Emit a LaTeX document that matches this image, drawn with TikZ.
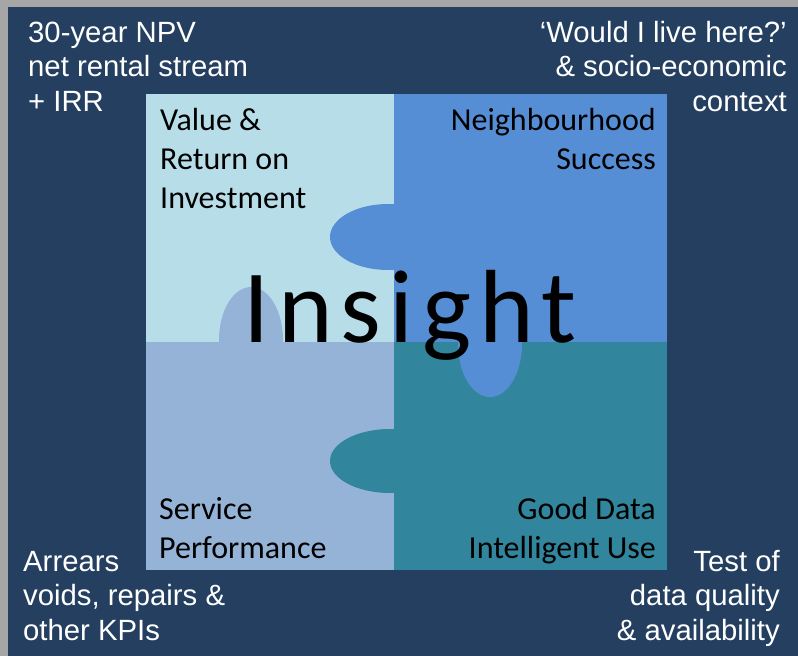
\documentclass[tikz,border=0pt]{standalone}
\usepackage{fontspec}
\setmainfont{Carlito}
\newfontfamily\arialfont{Liberation Sans}
\newfontfamily\insightfont[LetterSpace=8]{Carlito}

\definecolor{cornice}{HTML}{A6A6A6}
\definecolor{sfondo}{HTML}{243F60}
\definecolor{pezzoA}{HTML}{B7DEE8}
\definecolor{pezzoB}{HTML}{558ED5}
\definecolor{pezzoC}{HTML}{95B3D7}
\definecolor{pezzoD}{HTML}{31859C}

\begin{document}
\begin{tikzpicture}[x=1pt,y=-1pt,
  esterno/.style={text=white,inner sep=0pt,font=\arialfont\fontsize{29.3}{34.5}\selectfont},
  tessera/.style={text=black,inner sep=0pt,font=\fontsize{32}{39}\selectfont}]

\useasboundingbox (0,0) rectangle (798,656);

% Parametri del puzzle
\def\xa{146} \def\xm{394} \def\xb{667}
\def\ya{94}  \def\ym{342} \def\yb{570}

% Cornice grigia e sfondo
\fill[cornice] (0,0) rectangle (798,656);
\fill[sfondo] (8,7) rectangle (798,656);

% Le quattro tessere
\fill[pezzoA] (\xa,\ya) rectangle (\xm,\ym);
\fill[pezzoB] (\xm,\ya) rectangle (\xb,\ym);
\fill[pezzoC] (\xa,\ym) rectangle (\xm,\yb);
\fill[pezzoD] (\xm,\ym) rectangle (\xb,\yb);

% Incastri (linguette ellittiche)
\fill[pezzoB] (388,237) ellipse (58pt and 33pt);
\fill[pezzoC] (251,340) ellipse (32pt and 53pt);
\fill[pezzoB] (490,344) ellipse (32pt and 53pt);
\fill[pezzoD] (390,461) ellipse (60pt and 32pt);

% Scritta centrale
\node[anchor=base,inner sep=0pt,font=\insightfont\fontsize{104}{104}\selectfont] (insight) at (410,342) {Insight};

% Etichette delle tessere (base = ultima riga)
\node[tessera,anchor=base west,align=left] (valore) at (160,208) {Value \&\\Return on\\Investment};
\node[tessera,anchor=base east,align=right] (quartiere) at (656,169) {Neighbourhood\\Success};
\node[tessera,anchor=base west,align=left] (servizio) at (159,558) {Service\\Performance};
\node[tessera,anchor=base east,align=right] (dati) at (656,558) {Good Data\\Intelligent Use};

% Testi agli angoli
\node[esterno,anchor=base west,align=left] (npv) at (28,111) {30-year NPV\\net rental stream\\+ IRR};
\node[esterno,anchor=base east,align=right] (contesto) at (787,111) {‘Would I live here?’\\\& socio-economic\\context};
\node[esterno,anchor=base west,align=left] (kpi) at (23,640) {Arrears\\voids, repairs \&\\other KPIs};
\node[esterno,anchor=base east,align=right] (qualita) at (780,640) {Test of\\data quality\\\& availability};

\end{tikzpicture}
\end{document}
